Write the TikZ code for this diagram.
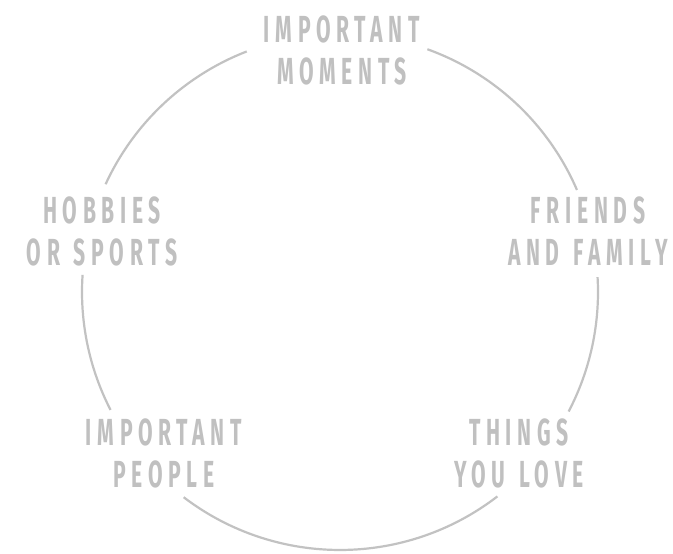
\documentclass[tikz,border=0pt]{standalone}
\usepackage{fontspec}
\setmainfont{Fira Sans}
\newfontfamily\lblfont{Fira Sans}[FakeStretch=0.56,LetterSpace=15,WordSpace=1.3]
\definecolor{txtgray}{RGB}{192,192,192}
\definecolor{arcgray}{RGB}{194,194,194}
\tikzset{
  lbl/.style={text=txtgray, align=center, inner sep=0pt,
    font=\lblfont\bfseries\fontsize{37.7bp}{42bp}\selectfont},
  ring/.style={draw=arcgray, line width=2.2bp}
}
\begin{document}
\begin{tikzpicture}[x=1bp,y=1bp]
\fill[white] (0,0) rectangle (673,554);
\useasboundingbox (0,0) rectangle (673,554);
\coordinate (c) at (340,262);
\node[lbl] (moments) at (342,504) {IMPORTANT\\MOMENTS};
\node[lbl] (friends) at (588,322.5) {FRIENDS\\AND FAMILY};
\node[lbl] (hobbies) at (102,323) {HOBBIES\\OR SPORTS};
\node[lbl] (people) at (164,101) {IMPORTANT\\PEOPLE};
\node[lbl] (things) at (519,101) {THINGS\\YOU LOVE};
\draw[ring] ([shift={(70.2:258)}]c) arc[start angle=70.2, end angle=23.3, radius=258];
\draw[ring] ([shift={(3.3:258)}]c) arc[start angle=3.3, end angle=-27.6, radius=258];
\draw[ring] ([shift={(-52.4:258)}]c) arc[start angle=-52.4, end angle=-127.3, radius=258];
\draw[ring] ([shift={(-152.8:258)}]c) arc[start angle=-152.8, end angle=-183.8, radius=258];
\draw[ring] ([shift={(155.3:258)}]c) arc[start angle=155.3, end angle=111.2, radius=258];
\end{tikzpicture}
\end{document}
